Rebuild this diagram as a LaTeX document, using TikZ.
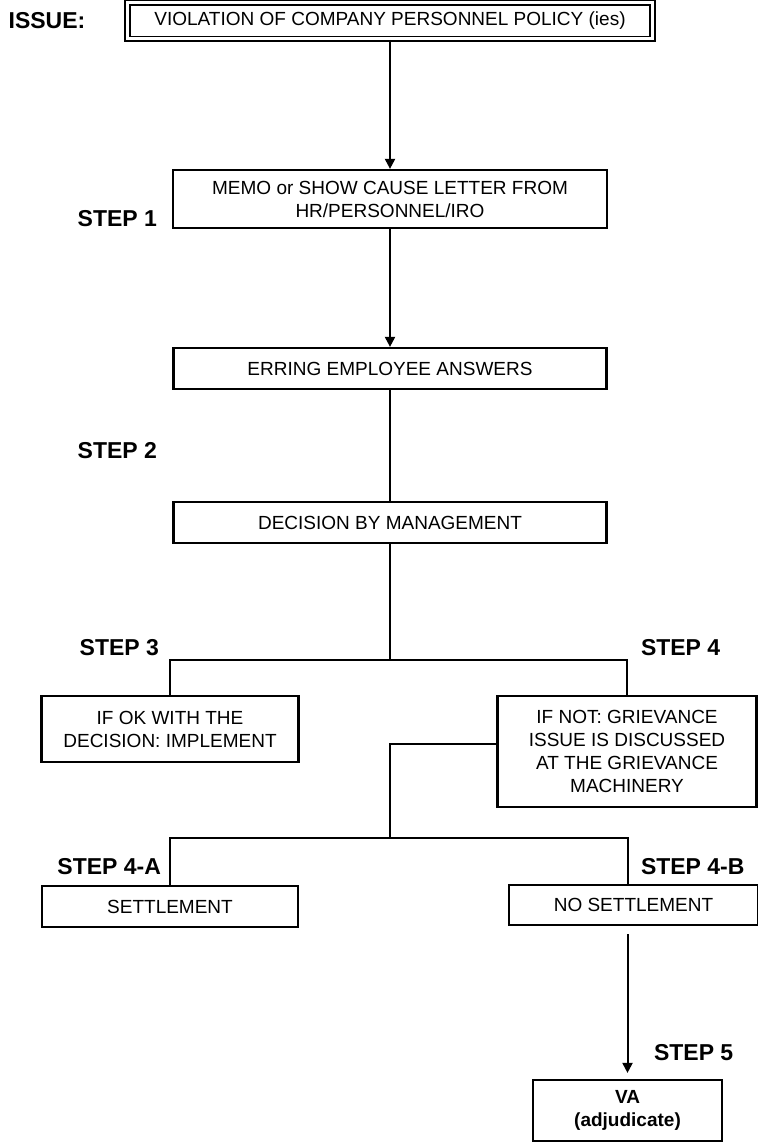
\documentclass[tikz,border=0pt]{standalone}
\usepackage{fontspec}
\setmainfont{Liberation Sans}
\usetikzlibrary{arrows.meta}
\begin{document}
\begin{tikzpicture}[x=0.5pt,y=-0.5pt,line width=1pt,
  box/.style={rectangle,draw,line width=1.1pt,align=center,inner sep=2pt,font=\fontsize{9.5}{11.5}\selectfont},
  topbox/.style={box,double,double distance=1.5pt,line width=0.9pt},
  steplabel/.style={font=\fontsize{11.5}{13}\selectfont\bfseries,inner sep=0pt},
  arr/.style={-{Triangle[length=5pt,width=5pt]}}]
\useasboundingbox (0,0) rectangle (758,1143);
\begin{scope}
\node[steplabel] (lissue) at (47,21) {ISSUE:};
\node[topbox,minimum width=262.5pt,minimum height=18pt] (issue) at (390,21) {VIOLATION OF COMPANY PERSONNEL POLICY (ies)};
\node[box,minimum width=217pt,minimum height=29pt] (memo) at (390,199) {MEMO or SHOW CAUSE LETTER FROM\\HR/PERSONNEL/IRO};
\node[box,minimum width=216.5pt,minimum height=20.5pt] (erring) at (390,368.5) {ERRING EMPLOYEE ANSWERS};
\node[box,minimum width=216.5pt,minimum height=20.5pt] (decision) at (390,522.5) {DECISION BY MANAGEMENT};
\node[box,minimum width=128.5pt,minimum height=33pt] (ifok) at (170,729) {IF OK WITH THE\\DECISION: IMPLEMENT};
\node[box,minimum width=129.5pt,minimum height=55.5pt] (ifnot) at (627,751.5) {IF NOT: GRIEVANCE\\ISSUE IS DISCUSSED\\AT THE GRIEVANCE\\MACHINERY};
\node[box,minimum width=128pt,minimum height=20.5pt] (settle) at (170,906.5) {SETTLEMENT};
\node[box,minimum width=124.5pt,minimum height=20pt] (nosettle) at (633.5,905) {NO SETTLEMENT};
\node[box,minimum width=94.5pt,minimum height=30.5pt,font=\fontsize{9.5}{11.5}\selectfont\bfseries] (va) at (627.5,1110.5) {VA\\(adjudicate)};
%\node[box] () at (,) {};
\end{scope}
\begin{scope}[every node/.style={steplabel}]
\node[anchor=east] (s1) at (158,219) {STEP 1};
\node[anchor=east] (s2) at (158,451) {STEP 2};
\node[anchor=east] (s3) at (160,648) {STEP 3};
\node[anchor=west] (s4) at (640,648) {STEP 4};
\node[anchor=east] (s4a) at (162,867) {STEP 4-A};
\node[anchor=west] (s4b) at (640,867) {STEP 4-B};
\node[anchor=west] (s5) at (653,1053) {STEP 5};
\end{scope}
\coordinate (fork1) at (390,660);
\coordinate (fork2) at (390,838);
\begin{scope}
\draw[arr] (issue) -- (memo);
\draw[arr] (memo) -- (erring);
\draw (erring) -- (decision);
\draw (decision) -- (fork1);
\draw (ifok.north) |- (fork1) -| (ifnot.north);
\draw ([yshift=4pt]ifnot.west) -| (fork2);
\draw (settle.north) |- (fork2) -| (nosettle.north -| va.north);
\draw[arr,shorten <=4pt,shorten >=3pt] (nosettle.south -| va.north) -- (va.north);
\end{scope}
\end{tikzpicture}
\end{document}
